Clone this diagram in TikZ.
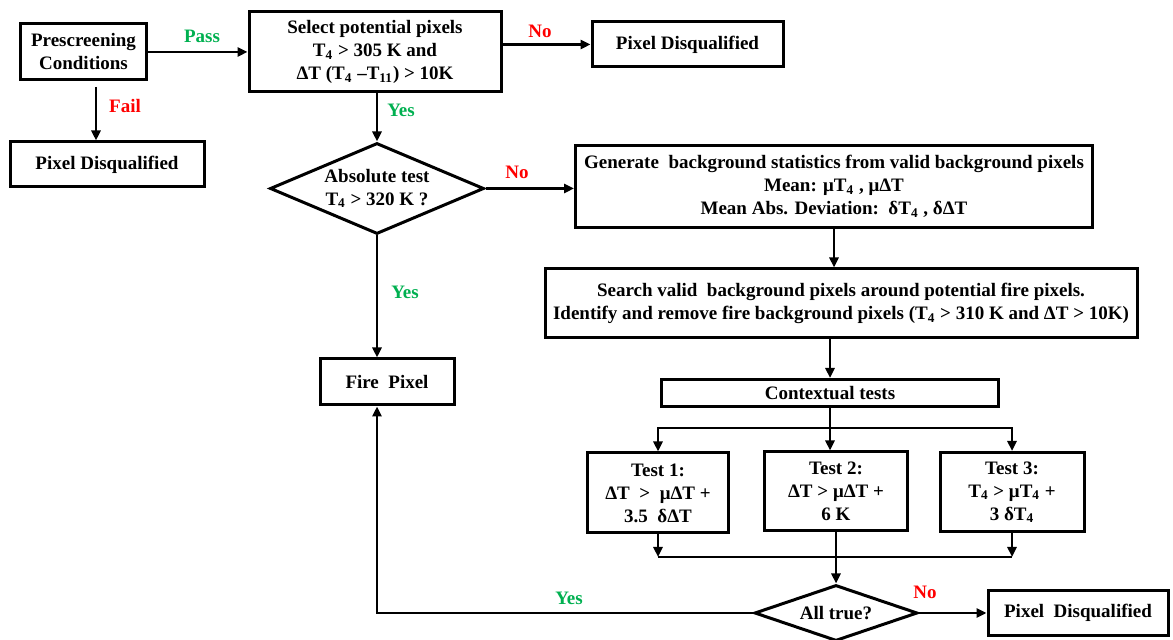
\documentclass[tikz,border=0pt]{standalone}
\usepackage{fontspec}
\setmainfont{Liberation Serif}
\usetikzlibrary{shapes.geometric,arrows.meta}

\definecolor{passgreen}{RGB}{0,176,80}
\definecolor{failred}{RGB}{255,0,0}

\begin{document}
\begin{tikzpicture}[x=0.5pt, y=-0.5pt,
    every node/.style={font=\fontsize{9.5}{11.5}\selectfont\bfseries},
    box/.style={draw, line width=1.5pt, align=center, inner sep=0pt},
    dia/.style={draw, diamond, line width=1.5pt, align=center, inner sep=0pt},
    arr/.style={line width=1.3pt, -{Triangle[length=5pt,width=4.5pt]}},
    lnk/.style={line width=1.3pt},
    lblg/.style={text=passgreen},
    lblr/.style={text=failred}]
  \useasboundingbox (0,0) rectangle (1173,640);

  % Prescreening and first selection
  \node[box, minimum width=63pt, minimum height=28pt] (pre) at (83.5,52) {Prescreening\\Conditions};
  \node[box, minimum width=126pt, minimum height=40pt] (sel) at (375,52)
    {Select potential pixels\\T\textsubscript{4} > 305 K and\\ΔT (T\textsubscript{4} –T\textsubscript{11}) > 10K};
  \node[box, minimum width=95.5pt, minimum height=22.5pt] (dq1) at (687.5,44.5) {Pixel Disqualified};
  \node[box, minimum width=97pt, minimum height=22.5pt] (dq2) at (107,164.5) {Pixel Disqualified};

  % Absolute test
  \node[dia, aspect=2.35, minimum width=107pt, minimum height=45.5pt] (abs) at (377,188.5) {Absolute test\\T\textsubscript{4} > 320 K ?};
  \node[box, minimum width=67pt, minimum height=23pt] (fire) at (387,382) {Fire\ \ Pixel};

  % Background statistics
  \node[box, minimum width=258.5pt, minimum height=41pt] (gen) at (834,186.5)
    {Generate\ \ background statistics from valid background pixels\\Mean: μT\textsubscript{4} , μΔT\\Mean Abs. Deviation:\ \ δT\textsubscript{4} , δΔT};
  \node[box, minimum width=296pt, minimum height=34.5pt] (srch) at (841,303.5)
    {Search valid\ \ background pixels around potential fire pixels.\\Identify and remove fire background pixels (T\textsubscript{4} > 310 K and ΔT > 10K)};

  % Contextual tests
  \node[box, minimum width=168.5pt, minimum height=13.5pt] (ctx) at (830,393) {Contextual tests};
  \node[box, minimum width=70.5pt, minimum height=40pt] (t1) at (658,493) {Test 1:\\ΔT\ \ >\ \ μΔT +\\3.5\ \ δΔT};
  \node[box, minimum width=71.5pt, minimum height=39.5pt] (t2) at (836,491.5) {Test 2:\\ΔT > μΔT +\\6 K};
  \node[box, minimum width=72pt, minimum height=39.5pt] (t3) at (1012,492) {Test 3:\\T\textsubscript{4} > μT\textsubscript{4} +\\3 δT\textsubscript{4}};
  \node[dia, aspect=2.9, minimum width=81.5pt, minimum height=28pt] (all) at (836,613) {All true?};
  \node[box, minimum width=90pt, minimum height=22.5pt] (dq3) at (1078,613) {Pixel\ \ Disqualified};

  % Helper points
  \coordinate (failtop) at (96,87);
  \coordinate (split) at (830,428);
  \coordinate (join) at (836,557);

  % Connectors
  \draw[arr] (pre.east) -- (sel.west);
  \draw[arr] (sel.east |- dq1.west) -- (dq1.west);
  \draw[arr] (failtop) -- (failtop |- dq2.north);
  \draw[arr] (sel.south -| abs.north) -- (abs.north);
  \draw[arr] (abs.east) -- (abs.east -| gen.west);
  \draw[arr] (abs.south) -- (abs.south |- fire.north);
  \draw[arr] (gen.south) -- (gen.south |- srch.north);
  \draw[arr] (srch.south -| ctx.north) -- (ctx.north);
  \draw[lnk] (ctx.south) -- (split);
  \draw[arr] (split) -| (t1.north);
  \draw[arr] (split) -| (t3.north);
  \draw[arr] (split) -- (split |- t2.north);
  \draw[arr] (t1.south) -- (t1.south |- join);
  \draw[arr] (t3.south) -- (t3.south |- join);
  \draw[lnk] (t1.south |- join) -- (t3.south |- join);
  \draw[arr] (t2.south) -- (all.north);
  \draw[arr] (all.east) -- (dq3.west);
  \draw[arr] (all.west) -| (abs.south |- fire.south);

  % Branch labels
  \node[lblg] (pass) at (202,36) {Pass};
  \node[lblr] (fail) at (125,106) {Fail};
  \node[lblr] (no1) at (540,31) {No};
  \node[lblg] (yes1) at (401,110) {Yes};
  \node[lblr] (no2) at (517,172) {No};
  \node[lblg] (yes2) at (405,292) {Yes};
  \node[lblg] (yes3) at (569,598) {Yes};
  \node[lblr] (no3) at (925,592) {No};
\end{tikzpicture}
\end{document}
